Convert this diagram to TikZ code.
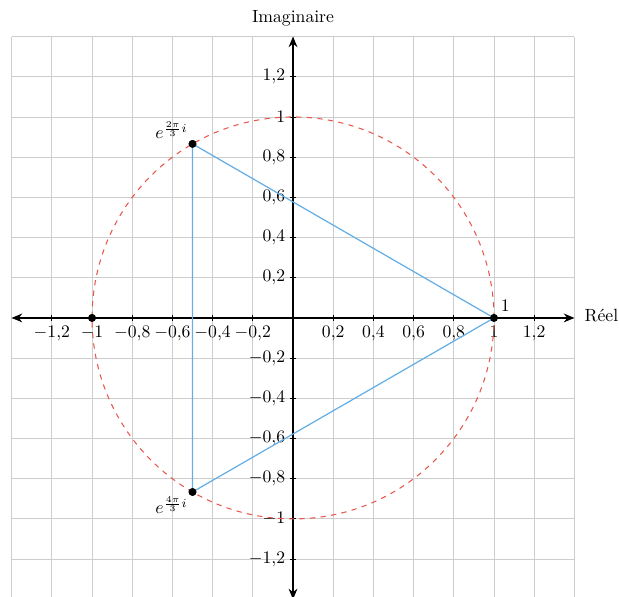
\documentclass[tikz,border=0pt]{standalone}
\usetikzlibrary{arrows.meta}
\definecolor{gridgray}{RGB}{205,205,205}
\definecolor{triblue}{RGB}{100,175,230}
\definecolor{circred}{RGB}{232,88,78}
\begin{document}
\begin{tikzpicture}[x=4cm,y=4cm,
  tickmark/.style={line width=0.5pt},
  dotpt/.style={circle,fill=black,inner sep=0pt,minimum size=4.4pt}]
\useasboundingbox (-1.458,-1.388) rectangle (1.622,1.582);
\draw[gridgray,line width=0.5pt] (-1.4,-1.4) grid[step=0.2] (1.4,1.4);
% axes
\coordinate (xl) at (-1.4,0);
\coordinate (xr) at (1.4,0);
\coordinate (yb) at (0,-1.4);
\coordinate (yt) at (0,1.4);
\draw[line width=0.65pt,{Stealth[length=6pt,width=5pt]}-{Stealth[length=6pt,width=5pt]}] (xl) -- (xr);
\draw[line width=0.65pt,{Stealth[length=6pt,width=5pt]}-{Stealth[length=6pt,width=5pt]}] (yb) -- (yt);
\node[anchor=west] (reel) at (1.42,0.01) {Réel};
\node[anchor=south] (imag) at (0,1.42) {Imaginaire};
% ticks
\foreach \v/\t in {-1.2/{-1{,}2},-1/{-1},-0.8/{-0{,}8},-0.6/{-0{,}6},-0.4/{-0{,}4},-0.2/{-0{,}2},0.2/{0{,}2},0.4/{0{,}4},0.6/{0{,}6},0.8/{0{,}8},1/{1},1.2/{1{,}2}}{
  \draw[tickmark] (\v,-0.015) -- (\v,0.015);
  \node[anchor=north,inner sep=2pt] at (\v,-0.02) {$\t$};
  \draw[tickmark] (-0.015,\v) -- (0.015,\v);
  \node[anchor=east,inner sep=2pt] at (-0.02,\v) {$\t$};
}
% circle
\node[draw=circred,dashed,line width=0.6pt,circle,minimum size=8cm,inner sep=0pt] (c) at (0,0) {};
% points
\node[dotpt] (p0) at (1,0) {};
\node[dotpt] (p1) at (-0.5,0.8660) {};
\node[dotpt] (p2) at (-0.5,-0.8660) {};
\node[dotpt] (pm) at (-1,0) {};
\draw[triblue,line width=0.7pt] (p0.center) -- (p1.center) -- (p2.center) -- cycle;
\foreach \p in {p0,p1,p2,pm}{\fill (\p) circle (2.2pt);}
\node[anchor=south west,inner sep=2pt] (l0) at (p0.north east) {$1$};
\node[anchor=south east,inner sep=1pt] (l1) at (p1.north west) {$e^{\frac{2\pi}{3}i}$};
\node[anchor=north east,inner sep=1pt] (l2) at (p2.south west) {$e^{\frac{4\pi}{3}i}$};
\end{tikzpicture}
\end{document}
